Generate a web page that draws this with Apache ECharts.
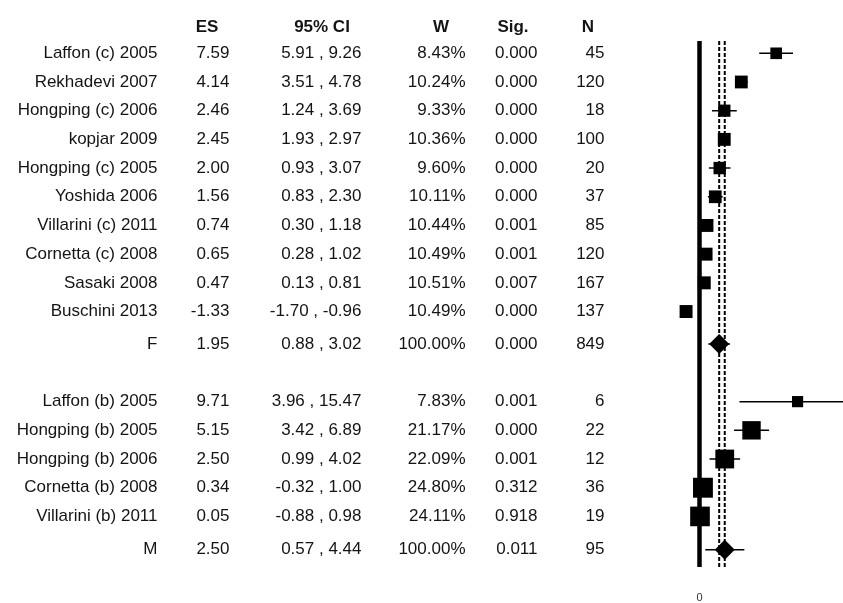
<!DOCTYPE html>
<html><head><meta charset="utf-8">
<script src="https://cdn.jsdelivr.net/npm/echarts@6/dist/echarts.min.js"></script>
<style>html,body{margin:0;padding:0;background:#fff}#c{width:843px;height:603px}</style>
</head><body><div id="c"></div>
<script>
const studies = ['Laffon (c) 2005','Rekhadevi 2007','Hongping (c) 2006','kopjar 2009','Hongping (c) 2005','Yoshida 2006','Villarini (c) 2011','Cornetta (c) 2008','Sasaki 2008','Buschini 2013','F','Laffon (b) 2005','Hongping (b) 2005','Hongping (b) 2006','Cornetta (b) 2008','Villarini (b) 2011','M'];
const es = [7.59,4.14,2.46,2.45,2.00,1.56,0.74,0.65,0.47,-1.33,1.95,9.71,5.15,2.50,0.34,0.05,2.50];
const ciLow = [5.91,3.51,1.24,1.93,0.93,0.83,0.30,0.28,0.13,-1.70,0.88,3.96,3.42,0.99,-0.32,-0.88,0.57];
const ciHigh = [9.26,4.78,3.69,2.97,3.07,2.30,1.18,1.02,0.81,-0.96,3.02,15.47,6.89,4.02,1.00,0.98,4.44];
const weights = [8.43,10.24,9.33,10.36,9.60,10.11,10.44,10.49,10.51,10.49,100.00,7.83,21.17,22.09,24.80,24.11,100.00];
const sigVals = ['0.000','0.000','0.000','0.000','0.000','0.000','0.001','0.001','0.007','0.000','0.000','0.001','0.000','0.001','0.312','0.918','0.011'];
const nVals = [45,120,18,100,20,37,85,120,167,137,849,6,22,12,36,19,95];
const isSummary = [false,false,false,false,false,false,false,false,false,false,true,false,false,false,false,false,true];
const rowPos = [0,1,2,3,4,5,6,7,8,9,10.13,12.14,13.14,14.14,15.14,16.14,17.3];
const headers = ['ES','95% CI','W','Sig.','N'];
const headerRow = -0.9;
const axisTicks = [0];

const FONT = 'Liberation Sans, Arial, sans-serif';
const TXT = '#141414';
const FS = 17;

// table column anchors (layout)
const colRight = [158, 230, 362, 466, 538, 605];
const headCenter = [207, 322, 441, 513, 588];

const colTexts = [
  studies,
  es.map(v => v.toFixed(2)),
  ciLow.map((v, i) => v.toFixed(2) + ' , ' + ciHigh[i].toFixed(2)),
  weights.map(v => v.toFixed(2) + '%'),
  sigVals,
  nVals.map(String)
];

const hiddenItem = {color: 'rgba(0,0,0,0)', opacity: 1};

const tableSeries = colTexts.map((texts, c) => ({
  type: 'scatter', xAxisIndex: 0, yAxisIndex: 0, silent: true,
  symbolSize: 1, itemStyle: hiddenItem,
  data: texts.map((t, i) => ({value: [colRight[c], rowPos[i]], txt: t})),
  label: {show: true, position: 'left', distance: 0, formatter: p => p.data.txt,
    fontFamily: FONT, fontSize: FS, color: TXT, opacity: 1}
}));
tableSeries.push({
  type: 'scatter', xAxisIndex: 0, yAxisIndex: 0, silent: true,
  symbolSize: 1, itemStyle: hiddenItem,
  data: headers.map((h, i) => ({value: [headCenter[i], headerRow], txt: h})),
  label: {show: true, position: 'inside', formatter: p => p.data.txt,
    fontFamily: FONT, fontSize: FS, fontWeight: 'bold', color: TXT, opacity: 1}
});

const fIdx = isSummary.indexOf(true);
const mIdx = isSummary.lastIndexOf(true);
const lineTop = -0.43, lineBottom = 17.9;

const plotSeries = [
  {type: 'line', xAxisIndex: 1, yAxisIndex: 1, silent: true, symbol: 'none',
   data: [[0, lineTop], [0, lineBottom]], lineStyle: {color: '#000', width: 4.5}, z: 1},
  {type: 'line', xAxisIndex: 1, yAxisIndex: 1, silent: true, symbol: 'none',
   data: [[es[fIdx], lineTop], [es[fIdx], lineBottom]], lineStyle: {color: '#000', width: 2, type: [4, 2]}, z: 1},
  {type: 'line', xAxisIndex: 1, yAxisIndex: 1, silent: true, symbol: 'none',
   data: [[es[mIdx], lineTop], [es[mIdx], lineBottom]], lineStyle: {color: '#000', width: 2, type: [4, 2]}, z: 1},
  {type: 'custom', xAxisIndex: 1, yAxisIndex: 1, silent: true, clip: true, z: 2,
   data: es.map((v, i) => [ciLow[i], ciHigh[i], rowPos[i]]),
   renderItem: (params, api) => {
     const a = api.coord([api.value(0), api.value(2)]);
     const b = api.coord([api.value(1), api.value(2)]);
     return {type: 'line', shape: {x1: a[0], y1: a[1], x2: b[0], y2: b[1]},
       style: {stroke: '#000', lineWidth: 1.5}};
   }},
  {type: 'scatter', xAxisIndex: 1, yAxisIndex: 1, silent: true, z: 3,
   symbol: 'rect',
   data: es.map((v, i) => isSummary[i] ? null : [v, rowPos[i], weights[i]]).filter(d => d),
   symbolSize: d => 4 * Math.sqrt(d[2]),
   itemStyle: {color: '#000', opacity: 1}},
  {type: 'scatter', xAxisIndex: 1, yAxisIndex: 1, silent: true, z: 3,
   symbol: 'diamond', symbolSize: [20, 20],
   data: es.map((v, i) => isSummary[i] ? [v, rowPos[i]] : null).filter(d => d),
   itemStyle: {color: '#000', opacity: 1}}
];

const yCommon = {type: 'value', inverse: true, min: -1, max: 18.6, show: false};

const chart = echarts.init(document.getElementById('c'), null, {renderer: 'canvas'});
chart.setOption({
  animation: false,
  backgroundColor: '#fff',
  grid: [
    {left: 0, width: 660, top: 24.6, bottom: 16, outerBoundsMode: 'none'},
    {left: 659.1, width: 202, top: 24.6, bottom: 16, outerBoundsMode: 'none'}
  ],
  xAxis: [
    {gridIndex: 0, type: 'value', min: 0, max: 660, show: false},
    {gridIndex: 1, type: 'value', min: -4, max: 16, interval: 4,
     axisLine: {show: false}, axisTick: {show: false}, splitLine: {show: false},
     axisLabel: {show: true, customValues: axisTicks, margin: 5, fontSize: 11, color: '#333', fontFamily: FONT}}
  ],
  yAxis: [
    Object.assign({gridIndex: 0}, yCommon),
    Object.assign({gridIndex: 1}, yCommon)
  ],
  series: tableSeries.concat(plotSeries)
});
</script>
</body></html>
